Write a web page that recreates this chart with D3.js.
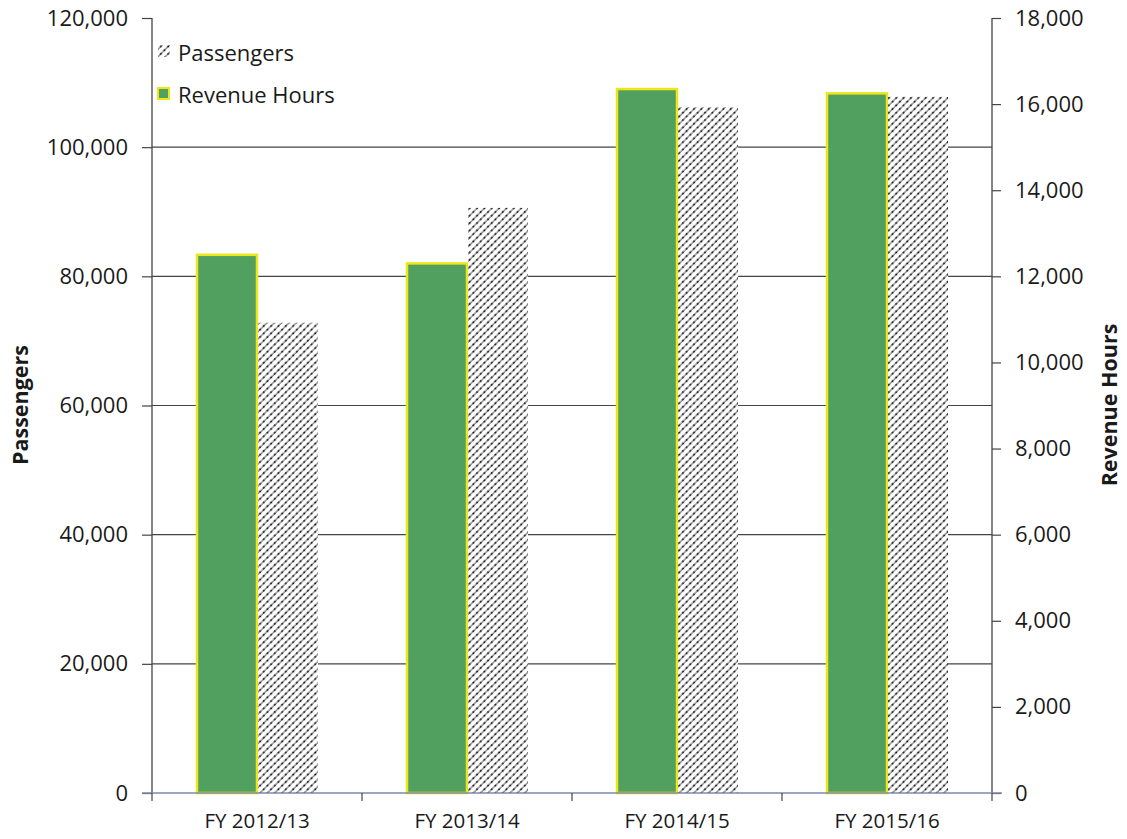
<!DOCTYPE html>
<html>
<head>
<meta charset="utf-8">
<script src="https://cdn.jsdelivr.net/npm/d3@7"></script>
<style>
  body { margin: 0; background: #fff; }
  svg text { font-family: "Open Sans", "Noto Sans", sans-serif; fill: #1a1a1a; }
</style>
</head>
<body>
<svg id="chart" width="1127" height="839"></svg>
<script>
// fiscal years and the two series
var years = ["FY 2012/13", "FY 2013/14", "FY 2014/15", "FY 2015/16"];
var passengers = [72800, 90600, 106200, 107800];
var revenueHours = [12500, 12300, 16350, 16250];
var passengerTicks = [0, 20000, 40000, 60000, 80000, 100000, 120000];
var hourTicks = [0, 2000, 4000, 6000, 8000, 10000, 12000, 14000, 16000, 18000];

// plot edges (window.top is taken, hence the names)
var plotLeft = 152, plotRight = 992, plotTop = 18, plotBottom = 793;

var svg = d3.select('#chart');
var fmt = d3.format(",");

var x = d3.scaleBand().domain(years).range([plotLeft, plotRight]);
var yP = d3.scaleLinear().domain([0, 120000]).range([plotBottom, plotTop]);
var yH = d3.scaleLinear().domain([0, 18000]).range([plotBottom, plotTop]);

// dotted diagonal hatch for passengers
var defs = svg.append('defs');
var pat = defs.append('pattern')
  .attr('id', 'hatch')
  .attr('patternUnits', 'userSpaceOnUse')
  .attr('width', 5.2).attr('height', 5.2)
  .attr('patternTransform', 'rotate(45)');
pat.append('rect').attr('width', 5.2).attr('height', 5.2).attr('fill', '#fff');
pat.append('line')
  .attr('x1', 1).attr('y1', 0).attr('x2', 1).attr('y2', 5.2)
  .attr('stroke', '#6e6e6e').attr('stroke-width', 1.1);
pat.append('rect')
  .attr('x', 0.2).attr('y', 1.5).attr('width', 1.7).attr('height', 1.7)
  .attr('fill', '#111');

// grid lines
svg.append('g').selectAll('line')
  .data(passengerTicks.filter(d => d > 0 && d < 120000))
  .join('line')
  .attr('x1', plotLeft).attr('x2', plotRight)
  .attr('y1', d => yP(d)).attr('y2', d => yP(d))
  .attr('stroke', '#444').attr('stroke-width', 1.2);

var barW = 60;

// revenue hours bars (right axis)
svg.append('g').selectAll('rect')
  .data(revenueHours)
  .join('rect')
  .attr('x', (d, i) => x(years[i]) + x.bandwidth() / 2 - barW)
  .attr('width', barW)
  .attr('y', d => yH(d))
  .attr('height', d => plotBottom - yH(d))
  .attr('fill', '#52a060')
  .attr('stroke', '#ece61a')
  .attr('stroke-width', 2.5);

// passenger bars (left axis)
svg.append('g').selectAll('rect')
  .data(passengers)
  .join('rect')
  .attr('x', (d, i) => x(years[i]) + x.bandwidth() / 2 + 1)
  .attr('width', barW)
  .attr('y', d => yP(d))
  .attr('height', d => plotBottom - yP(d))
  .attr('fill', 'url(#hatch)');

// left axis
var gL = svg.append('g')
  .attr('transform', 'translate(' + plotLeft + ',0)')
  .call(d3.axisLeft(yP).tickValues(passengerTicks).tickFormat(fmt).tickSize(10).tickPadding(14));

// right axis
var gR = svg.append('g')
  .attr('transform', 'translate(' + plotRight + ',0)')
  .call(d3.axisRight(yH).tickValues(hourTicks).tickFormat(fmt).tickSize(9).tickPadding(14));

[gL, gR].forEach(function(g) {
  g.select('.domain').attr('stroke', '#444').attr('stroke-width', 1.3)
    .attr('d', 'M0,' + plotTop + 'V' + plotBottom);
  g.selectAll('.tick line').attr('stroke', '#444').attr('stroke-width', 1.2);
  g.selectAll('.tick text').attr('font-size', '22px').attr('fill', '#1a1a1a')
    .style('font-family', '"Open Sans", "Noto Sans", sans-serif');
});

// bottom axis
var gB = svg.append('g')
  .attr('transform', 'translate(0,' + plotBottom + ')')
  .call(d3.axisBottom(x).tickSize(0).tickPadding(20));
gB.select('.domain').attr('stroke', '#7c8aa8').attr('stroke-width', 1.5)
  .attr('d', 'M' + (plotLeft - 10) + ',0H' + (plotRight + 10));
gB.selectAll('.tick text').attr('font-size', '20.5px').attr('fill', '#1a1a1a')
  .style('font-family', '"Open Sans", "Noto Sans", sans-serif');

// category separators
svg.append('g').selectAll('line')
  .data(d3.range(years.length + 1))
  .join('line')
  .attr('x1', i => plotLeft + i * x.bandwidth())
  .attr('x2', i => plotLeft + i * x.bandwidth())
  .attr('y1', plotBottom).attr('y2', plotBottom + 8)
  .attr('stroke', '#444').attr('stroke-width', 1.2);

// axis titles
svg.append('text')
  .attr('transform', 'translate(28,' + 405 + ') rotate(-90)')
  .attr('text-anchor', 'middle')
  .attr('font-weight', 700).attr('font-size', '21.5px')
  .text('Passengers');

svg.append('text')
  .attr('transform', 'translate(1117,' + 405 + ') rotate(-90)')
  .attr('text-anchor', 'middle')
  .attr('font-weight', 700).attr('font-size', '21.5px')
  .text('Revenue Hours');

// legend
var lg = svg.append('g');
lg.append('rect').attr('x', 158).attr('y', 45).attr('width', 12).attr('height', 12)
  .attr('fill', 'url(#hatch)');
lg.append('text').attr('x', 178).attr('y', 61).attr('font-size', '22px').text('Passengers');
lg.append('rect').attr('x', 158).attr('y', 88).attr('width', 11).attr('height', 11)
  .attr('fill', '#52a060').attr('stroke', '#ece61a').attr('stroke-width', 2);
lg.append('text').attr('x', 178).attr('y', 103).attr('font-size', '22px').text('Revenue Hours');
</script>
</body>
</html>
